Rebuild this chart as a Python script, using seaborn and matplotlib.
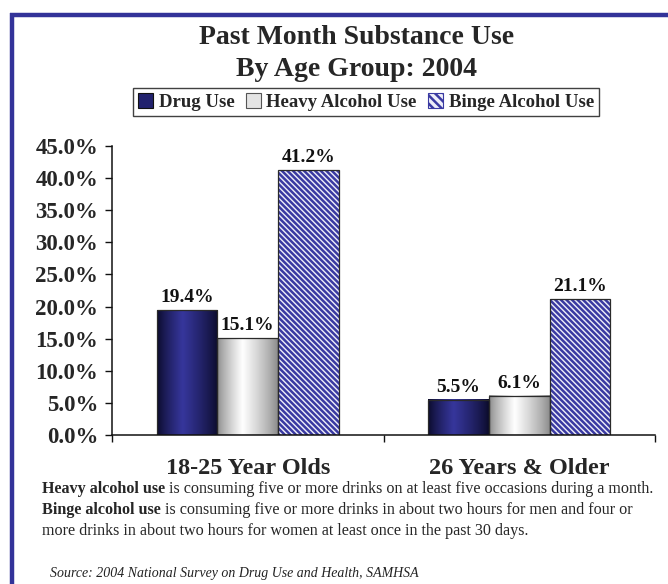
import numpy as np
import pandas as pd
import matplotlib
matplotlib.use("Agg")
import matplotlib.pyplot as plt
from matplotlib.patches import Rectangle, Patch
from matplotlib.lines import Line2D
from matplotlib.ticker import FuncFormatter
import seaborn as sns

# --- data -------------------------------------------------------------
age_groups = ["18-25 Year Olds", "26 Years & Older"]
measures = ["Drug Use", "Heavy Alcohol Use", "Binge Alcohol Use"]
drug_use = [19.4, 5.5]
heavy_alcohol = [15.1, 6.1]
binge_alcohol = [41.2, 21.1]

rows = []
for m, vals in zip(measures, [drug_use, heavy_alcohol, binge_alcohol]):
    for g, v in zip(age_groups, vals):
        rows.append({"group": g, "measure": m, "value": v})
df = pd.DataFrame(rows)

# --- styling ----------------------------------------------------------
sns.set_style("white")
plt.rcParams["font.family"] = ["Liberation Serif", "DejaVu Serif"]
plt.rcParams["hatch.linewidth"] = 1.8

NAVY = "#333399"
BORDER = "#333399"
HATCH = "\\" * 6

fig = plt.figure(figsize=(6.68, 5.84), dpi=100)
ax = fig.add_axes([112 / 668, 1 - 435 / 584, (655 - 112) / 668, (435 - 146) / 584])

palette = {"Drug Use": NAVY, "Heavy Alcohol Use": "#e6e6e6", "Binge Alcohol Use": "#eeeef8"}
sns.barplot(data=df, x="group", y="value", hue="measure", hue_order=measures,
            order=age_groups, palette=palette, width=0.67, saturation=1,
            legend=False, ax=ax, err_kws={"linewidth": 0})

# gradient fills for the solid bars
def gradient_rgb(edge, center, n=64, peak=0.42):
    t = np.linspace(0, 1, n)
    w = np.where(t < peak, t / peak, (1 - t) / (1 - peak))
    w = np.clip(w, 0, 1) ** 0.8
    edge = np.array(matplotlib.colors.to_rgb(edge))
    center = np.array(matplotlib.colors.to_rgb(center))
    cols = edge[None, :] * (1 - w[:, None]) + center[None, :] * w[:, None]
    return cols[None, :, :]

grad = {
    "Drug Use": gradient_rgb("#0b0b2a", "#36369c"),
    "Heavy Alcohol Use": gradient_rgb("#8a8a8a", "#ffffff"),
}

for measure, container in zip(measures, ax.containers):
    for bar in container:
        x, w, h = bar.get_x(), bar.get_width(), bar.get_height()
        if measure in grad:
            ax.imshow(grad[measure], extent=[x, x + w, 0, h], aspect="auto",
                      zorder=2.1, interpolation="bilinear")
            bar.set_edgecolor("none")
        else:
            bar.set_hatch(HATCH)
            bar.set_edgecolor("#3a3aa2")
            bar.set_linewidth(0)
        ax.add_patch(Rectangle((x, 0), w, h, facecolor="none",
                               edgecolor="#2a2a2a", linewidth=0.9, zorder=2.5))
        ax.annotate(f"{h:.1f}%", (x + w / 2, h), xytext=(0, 3),
                    textcoords="offset points", ha="center", va="bottom",
                    fontsize=14, fontweight="bold", color="#111111")

ax.set_xlim(-0.5, 1.5)
ax.set_ylim(0, 45)

# axes
for s in ["top", "right"]:
    ax.spines[s].set_visible(False)
for s in ["left", "bottom"]:
    ax.spines[s].set_color("#111111")
    ax.spines[s].set_linewidth(1.1)

ax.set_yticks(np.arange(0, 46, 5))
ax.yaxis.set_major_formatter(FuncFormatter(lambda v, p: f"{v:.1f}%"))
ax.tick_params(axis="y", direction="out", length=5, width=1, pad=5,
               labelsize=16.5, left=True, color="#111111")
for lbl in ax.get_yticklabels():
    lbl.set_fontweight("bold")

ax.set_xticks([-0.5, 0.5, 1.5])
ax.set_xticklabels(["", "", ""])
ax.tick_params(axis="x", direction="out", length=5, width=1, bottom=True,
               color="#111111")
ax.set_xlabel("")
ax.set_ylabel("")

for i, g in enumerate(age_groups):
    ax.annotate(g, (i, 0), xycoords=("data", "axes fraction"),
                xytext=(0, -24), textcoords="offset points",
                ha="center", va="center", fontsize=17.5, fontweight="bold")

# title
fig.text(357 / 668, 1 - 37 / 584, "Past Month Substance Use", ha="center",
         va="center", fontsize=20, fontweight="bold")
fig.text(357 / 668, 1 - 70 / 584, "By Age Group: 2004", ha="center",
         va="center", fontsize=20, fontweight="bold")

# legend
handles = [
    Patch(facecolor="#22226e", edgecolor="#111111", linewidth=0.8),
    Patch(facecolor="#e4e4e4", edgecolor="#555555", linewidth=0.8),
    Patch(facecolor="#eeeef8", edgecolor="#3a3aa2", hatch="\\\\\\\\", linewidth=0.8),
]
leg = fig.legend(handles, measures, loc="center", ncol=3,
                 bbox_to_anchor=(366 / 668, 1 - 102 / 584),
                 prop={"weight": "bold", "size": 13.5}, frameon=True,
                 fancybox=False, edgecolor="#111111", handlelength=0.8,
                 handleheight=0.8, handletextpad=0.3, columnspacing=0.6,
                 borderpad=0.25, borderaxespad=0)
leg.get_frame().set_linewidth(1.0)

# footnotes with bold lead-in
fig.canvas.draw()
renderer = fig.canvas.get_renderer()
FOOT = 11.6

def mixed_line(x_px, y_px, bold, rest, size=FOOT):
    t1 = fig.text(x_px / 668, 1 - y_px / 584, bold, fontsize=size,
                  fontweight="bold", va="center", ha="left")
    if rest:
        bb = t1.get_window_extent(renderer)
        x_end = bb.x1 / fig.bbox.width
        fig.text(x_end, 1 - y_px / 584, rest, fontsize=size,
                 va="center", ha="left")

mixed_line(42, 489, "Heavy alcohol use",
           " is consuming five or more drinks on at least five occasions during a month.")
mixed_line(42, 510, "Binge alcohol use",
           " is consuming five or more drinks in about two hours for men and four or")
fig.text(42 / 668, 1 - 531 / 584,
         "more drinks in about two hours for women at least once in the past 30 days.",
         fontsize=FOOT, va="center", ha="left")
fig.text(50 / 668, 1 - 573 / 584,
         "Source: 2004 National Survey on Drug Use and Health, SAMHSA",
         fontsize=10, style="italic", va="center", ha="left", color="#222222")

# outer frame lines (left and top)
fig.add_artist(Line2D([12 / 668, 12 / 668], [0, 1 - 13 / 584],
                      color=BORDER, linewidth=3.2, solid_capstyle="butt"))
fig.add_artist(Line2D([10.4 / 668, 1], [1 - 15 / 584, 1 - 15 / 584],
                      color=BORDER, linewidth=3.2, solid_capstyle="butt"))

fig.savefig("out.png", dpi=100)
